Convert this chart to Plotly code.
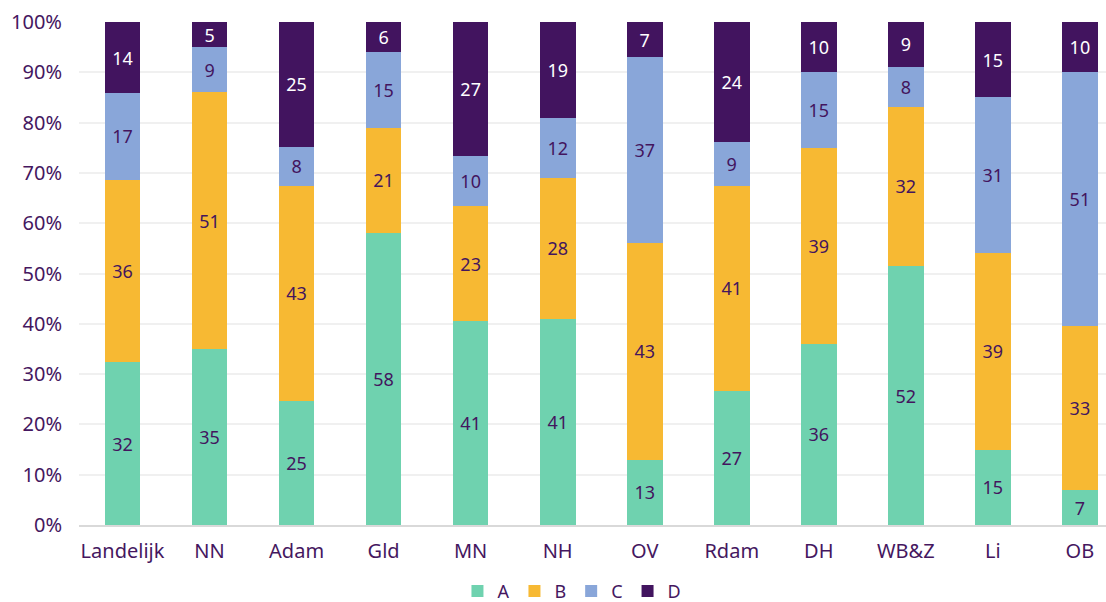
import plotly.graph_objects as go

categories = ["Landelijk", "NN", "Adam", "Gld", "MN", "NH", "OV", "Rdam", "DH", "WB&Z", "Li", "OB"]
A = [32, 35, 25, 58, 41, 41, 13, 27, 36, 52, 15, 7]
B = [36, 51, 43, 21, 23, 28, 43, 41, 39, 32, 39, 33]
C = [17, 9, 8, 15, 10, 12, 37, 9, 15, 8, 31, 51]
D = [14, 5, 25, 6, 27, 19, 7, 24, 10, 9, 15, 10]

series = [
    ("A", A, "#6fd2af", "#43155e"),
    ("B", B, "#f7b933", "#43155e"),
    ("C", C, "#89a6d9", "#43155e"),
    ("D", D, "#42145f", "#ffffff"),
]

purple = "#45175f"
font_family = "Noto Sans, Open Sans, sans-serif"

fig = go.Figure()
for name, vals, color, tcolor in series:
    fig.add_trace(go.Bar(
        name=name, x=categories, y=vals,
        marker=dict(color=color, line=dict(width=0)),
        text=[str(v) for v in vals],
        textposition="inside", insidetextanchor="middle", textangle=0,
        textfont=dict(color=tcolor, size=18, family=font_family),
        width=0.41,
    ))

fig.update_layout(
    barmode="stack", barnorm="percent",
    width=1106, height=602,
    margin=dict(l=79, r=0, t=22, b=77, autoexpand=False),
    paper_bgcolor="white", plot_bgcolor="white",
    font=dict(family=font_family, color=purple, size=18),
    uniformtext=dict(minsize=18, mode="show"),
    legend=dict(orientation="h", x=0.48, xanchor="center", y=-0.095, yanchor="top",
                font=dict(size=18, color=purple), itemwidth=30, traceorder="normal"),
    showlegend=True,
)
fig.update_xaxes(range=[-0.5, 11.3], showline=True, linecolor="#d9d9d9", linewidth=2,
                 ticks="", tickfont=dict(size=20, color=purple), showgrid=False,
                 automargin=False, ticklabelstandoff=7)
fig.update_yaxes(range=[0, 100], dtick=10, ticksuffix="%", showgrid=True, gridcolor="#f0f0f0",
                 gridwidth=2, zeroline=False, tickfont=dict(size=20, color=purple),
                 ticklabelstandoff=16, automargin=False)

fig.write_html("out.html", config={"displayModeBar": False},
               post_script="document.body.style.margin='0';")
